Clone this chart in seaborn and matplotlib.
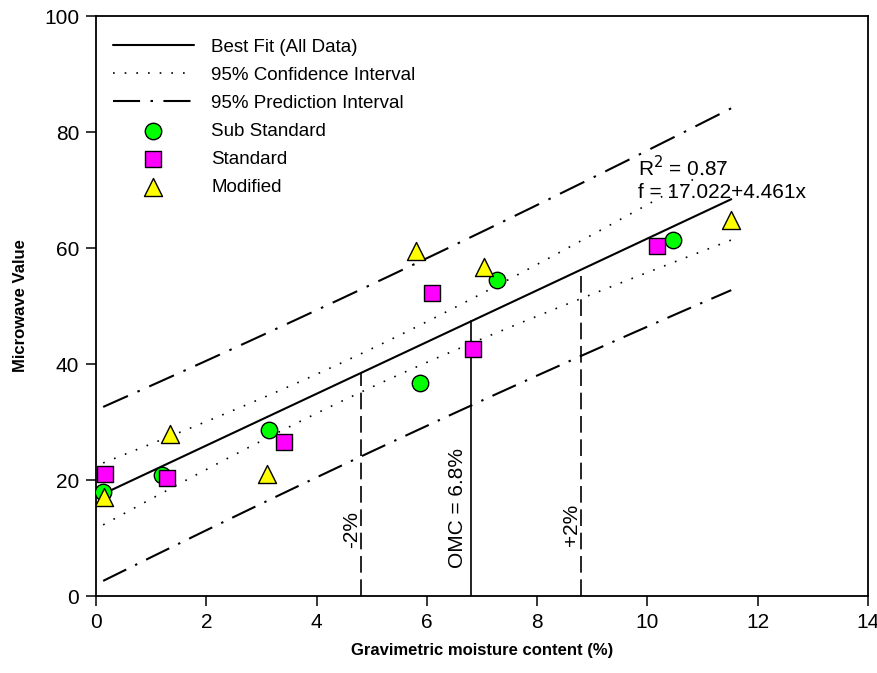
import numpy as np
import pandas as pd
import matplotlib
matplotlib.use("Agg")
import matplotlib.pyplot as plt
from matplotlib import font_manager
import seaborn as sns

# ---- data ----
sub_x = [0.13, 1.19, 3.13, 5.88, 7.28, 10.46]
sub_y = [18.0, 20.9, 28.6, 36.8, 54.4, 61.3]
std_x = [0.16, 1.28, 3.41, 6.10, 6.84, 10.17]
std_y = [21.0, 20.4, 26.5, 52.3, 42.6, 60.3]
mod_x = [0.15, 1.34, 3.10, 5.80, 7.04, 11.52]
mod_y = [17.0, 27.9, 21.0, 59.4, 56.8, 64.8]

intercept = 17.022
slope = 4.461
r2_text = "0.87"
omc = 6.8
omc_minus = 4.8
omc_plus = 8.8
t_crit = 2.120  # t(0.975, df=16)

sns.set_theme(style="white")
plt.rcParams['font.family'] = ['Liberation Sans', 'DejaVu Sans']
plt.rcParams['text.color'] = 'black'
plt.rcParams['axes.labelcolor'] = 'black'
plt.rcParams['xtick.color'] = 'black'
plt.rcParams['ytick.color'] = 'black'

names = {f.name for f in font_manager.fontManager.ttflist}
if 'Liberation Sans Narrow' in names:
    lab_font = dict(fontsize=14.5, fontweight='bold', family=['Liberation Sans Narrow', 'Liberation Sans'])
else:
    lab_font = dict(fontsize=12, fontweight='bold', family=['Liberation Sans', 'DejaVu Sans'])

fig = plt.figure(figsize=(8.78, 6.73), dpi=100)
ax = fig.add_axes([96/878, 77/673, 772/878, 580/673])

# regression bands
allx = np.array(sub_x + std_x + mod_x)
ally = np.array(sub_y + std_y + mod_y)
n = len(allx)
resid = ally - (intercept + slope * allx)
s = np.sqrt(np.sum(resid**2) / (n - 2))
xm = allx.mean()
sxx = np.sum((allx - xm)**2)
xg = np.linspace(allx.min(), allx.max(), 200)
fit = intercept + slope * xg
ci = t_crit * s * np.sqrt(1/n + (xg - xm)**2 / sxx)
pi = t_crit * s * np.sqrt(1 + 1/n + (xg - xm)**2 / sxx)

sns.lineplot(x=xg, y=fit, ax=ax, color='black', lw=1.5, label='Best Fit (All Data)')
sns.lineplot(x=xg, y=fit + ci, ax=ax, color='black', lw=1.2, label='95% Confidence Interval')
sns.lineplot(x=xg, y=fit - ci, ax=ax, color='black', lw=1.2)
sns.lineplot(x=xg, y=fit + pi, ax=ax, color='black', lw=1.5, label='95% Prediction Interval')
sns.lineplot(x=xg, y=fit - pi, ax=ax, color='black', lw=1.5)
lines = ax.get_lines()
for ln in lines[1:3]:
    ln.set_linestyle((0, (1, 6)))
lines[3].set_linestyle((0, (13, 5, 1.2, 5)))
lines[4].set_linestyle((0, (12.35, 4.75, 1.14, 4.75)))

# vertical lines
for xv, ls in [(omc_minus, (0, (10, 4))), (omc, '-'), (omc_plus, (0, (10, 4)))]:
    ax.plot([xv, xv], [0, intercept + slope * xv], color='black', lw=1.2, linestyle=ls)

ax.text(4.63, 11.4, "-2%", rotation=90, ha='center', va='center', fontsize=15)
ax.text(6.56, 15.2, "OMC = 6.8%", rotation=90, ha='center', va='center', fontsize=15)
ax.text(8.63, 12.2, "+2%", rotation=90, ha='center', va='center', fontsize=15)

# points
ms = 140
sns.scatterplot(x=sub_x, y=sub_y, ax=ax, marker='o', color='#00FF00', edgecolor='black',
                linewidth=1, s=ms, label='Sub Standard', zorder=5)
sns.scatterplot(x=std_x, y=std_y, ax=ax, marker='s', color='#FF00FF', edgecolor='black',
                linewidth=1, s=ms, label='Standard', zorder=5)
sns.scatterplot(x=mod_x, y=mod_y, ax=ax, marker='^', color='#FFFF00', edgecolor='black',
                linewidth=1, s=ms*1.2, label='Modified', zorder=5)

ax.text(9.83, 73.9, "R$^2$ = " + r2_text, fontsize=15, va='center', ha='left')
ax.text(9.83, 69.6, f"f = {intercept:.3f}+{slope:.3f}x", fontsize=15, va='center', ha='left')

ax.set_xlim(0, 14)
ax.set_ylim(0, 100)
ax.set_xticks(np.arange(0, 15, 2))
ax.set_yticks(np.arange(0, 101, 20))
ax.tick_params(axis='both', direction='out', length=7, width=1.1, labelsize=15, colors='black',
               bottom=True, left=True, pad=5)
for sp in ax.spines.values():
    sp.set_color('black')
    sp.set_linewidth(1.3)

ax.set_xlabel("Gravimetric moisture content (%)", labelpad=8, **lab_font)
ax.set_ylabel("Microwave Value", labelpad=12, **lab_font)

leg = ax.legend(loc='upper left', bbox_to_anchor=(0.0, 0.99), frameon=False, fontsize=13.5,
                handlelength=4.3, handletextpad=0.95, labelspacing=0.58, borderaxespad=0.5)
for t in leg.get_texts():
    t.set_color('black')

fig.savefig("out.png", dpi=100)
